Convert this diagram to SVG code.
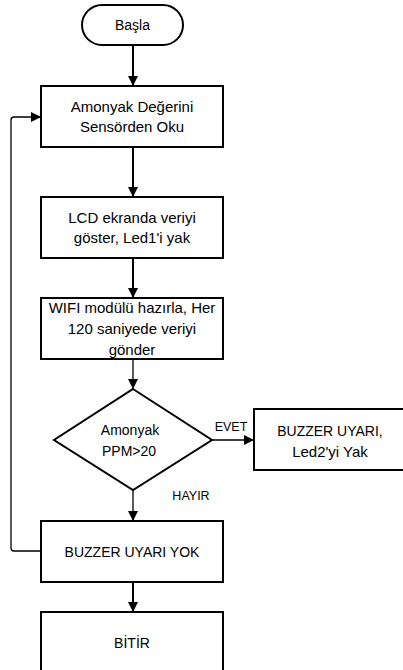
<svg xmlns="http://www.w3.org/2000/svg" width="403" height="670" viewBox="0 0 403 670">
<style>
.s{fill:#fff;stroke:#000;stroke-width:2}
.t{font-family:"Liberation Sans",Arial,sans-serif;font-size:15px;fill:#000;text-anchor:middle}
.u{font-size:14px}
.l{font-size:12.5px}
.c{fill:none;stroke:#000;stroke-width:2}
.c1{fill:none;stroke:#000;stroke-width:1.3}
</style>
<defs>
<marker id="a" markerWidth="10" markerHeight="10" viewBox="0 0 10 10" refX="10" refY="5" orient="auto" markerUnits="userSpaceOnUse">
<path d="M0,0L10,5L0,10z" fill="#000"/>
</marker>
</defs>
<rect width="403" height="670" fill="#fff"/>
<g id="connectors">
<path class="c" d="M133,45V86" marker-end="url(#a)"/>
<path class="c" d="M133,147V197" marker-end="url(#a)"/>
<path class="c" d="M133,258V298" marker-end="url(#a)"/>
<path class="c1" d="M133,359V389" marker-end="url(#a)"/>
<path class="c1" d="M212,440H254" marker-end="url(#a)"/>
<path class="c1" d="M133,490V521" marker-end="url(#a)"/>
<path class="c1" d="M41,551H14Q11,551 11,548V120Q11,117 14,117H41" marker-end="url(#a)"/>
<path class="c" d="M133,582V612" marker-end="url(#a)"/>
<text class="t l" x="231" y="431">EVET</text>
<text class="t l" x="191" y="500">HAYIR</text>
</g>
<g id="start"><rect class="s" x="82" y="5" width="101" height="40" rx="20"/><text class="t u" x="132.5" y="30">Başla</text></g>
<g id="read"><rect class="s" x="41" y="86" width="182" height="61"/><text class="t" x="132" y="112">Amonyak Değerini</text><text class="t" x="132" y="132">Sensörden Oku</text></g>
<g id="lcd"><rect class="s" x="41" y="197" width="182" height="61"/><text class="t" x="132" y="223">LCD ekranda veriyi</text><text class="t" x="132" y="243">göster, Led1'i yak</text></g>
<g id="wifi"><rect class="s" x="41" y="298" width="182" height="61"/><text class="t" x="132" y="313">WIFI modülü hazırla, Her</text><text class="t" x="132" y="334">120 saniyede veriyi</text><text class="t" x="132" y="355">gönder</text></g>
<g id="decision"><path class="s" d="M133,389L212,440L133,490L54,440z"/><text class="t u" x="130" y="435">Amonyak</text><text class="t u" x="129" y="456">PPM&gt;20</text></g>
<g id="buzzer"><rect class="s" x="254" y="409" width="152" height="61"/><text class="t u" x="330" y="436">BUZZER UYARI,</text><text class="t" x="330" y="457">Led2'yi Yak</text></g>
<g id="nobuzzer"><rect class="s" x="41" y="521" width="182" height="61"/><text class="t u" x="132" y="557">BUZZER UYARI YOK</text></g>
<g id="end"><rect class="s" x="41" y="612" width="182" height="62"/><text class="t u" x="132" y="648">BİTİR</text></g>
</svg>
